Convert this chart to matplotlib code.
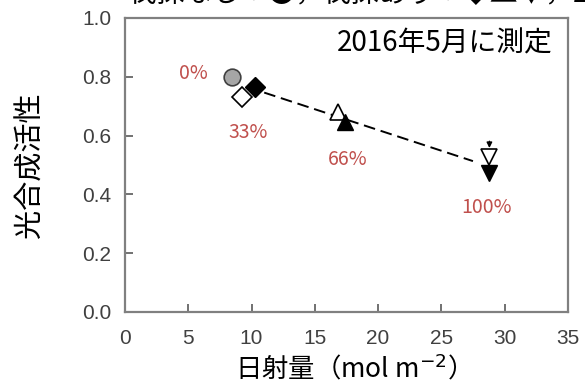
import matplotlib
matplotlib.use("Agg")
import matplotlib.pyplot as plt

# data
ctrl_x = [8.45]
ctrl_y = [0.80]
open_x = [9.24, 16.8, 28.8]
open_y = [0.73, 0.68, 0.527]
fill_x = [10.27, 17.4, 28.8]
fill_y = [0.765, 0.646, 0.473]
shapes = ["D", "^", "v"]
trend_x = [11.0, 27.5]
trend_y = [0.746, 0.513]
pct_labels = ["0%", "33%", "66%", "100%"]
pct_x = [6.5, 9.7, 17.6, 28.6]
pct_y = [0.81, 0.61, 0.517, 0.354]
xticks = [0, 5, 10, 15, 20, 25, 30, 35]
yticks = [0.0, 0.2, 0.4, 0.6, 0.8, 1.0]

jp = ["Noto Sans CJK JP", "DejaVu Sans"]
red = "#c0504d"

fig = plt.figure(figsize=(5.85, 3.89), dpi=100)
ax = fig.add_axes([0.2137, 0.198, 0.757, 0.756])

ax.plot(trend_x, trend_y, color="black", linestyle=(0, (6, 3)), linewidth=1.4, zorder=1)
ax.plot(ctrl_x, ctrl_y, "o", markersize=12, markerfacecolor="#a6a6a6",
        markeredgecolor="#404040", markeredgewidth=1.2, zorder=3)
for i in range(len(shapes)):
    ms = 10 if shapes[i] == "D" else 12
    ax.plot(open_x[i], open_y[i], shapes[i], markersize=ms, markerfacecolor="white",
            markeredgecolor="black", markeredgewidth=1.2, zorder=3)
    ax.plot(fill_x[i], fill_y[i], shapes[i], markersize=ms, markerfacecolor="black",
            markeredgecolor="black", zorder=4)

ax.annotate("", xy=(28.8, 0.548), xytext=(28.8, 0.59),
            arrowprops=dict(arrowstyle="-|>", color="black", lw=1.0, mutation_scale=8))

for lab, x, y in zip(pct_labels, pct_x, pct_y):
    ha = "right" if lab == "0%" else "center"
    ax.text(x, y, lab, color=red, fontsize=14, ha=ha, va="center", family=jp)

ax.text(0.966, 0.912, "2016年5月に測定", transform=ax.transAxes, fontsize=20,
        ha="right", va="center", family=jp)

ax.set_xlim(0, 35)
ax.set_ylim(0, 1.0)
ax.set_xticks(xticks)
ax.set_yticks(yticks)
ax.set_yticklabels([f"{v:.1f}" for v in yticks])
ax.tick_params(direction="in", length=6, width=1.2, color="#595959",
               labelcolor="#404040", labelsize=15)
ax.tick_params(axis="y", pad=10)
ax.tick_params(axis="x", pad=12)
for lab in ax.get_xticklabels() + ax.get_yticklabels():
    lab.set_family("Liberation Sans")
for sp in ax.spines.values():
    sp.set_color("#808080")
    sp.set_linewidth(1.6)

ax.set_xlabel("日射量（mol m$^{-2}$）", fontsize=19, family=jp, labelpad=4)
ax.set_ylabel("光合成活性", fontsize=21, family=jp, labelpad=26)

# title line cut off at the top edge of the picture
fig.text(0.22, 0.977, "伐採なし：●，伐採あり：◆▲▼，2015年10月伐採", fontsize=20,
         ha="left", va="bottom", family=jp)

fig.savefig("out.png", dpi=100)
